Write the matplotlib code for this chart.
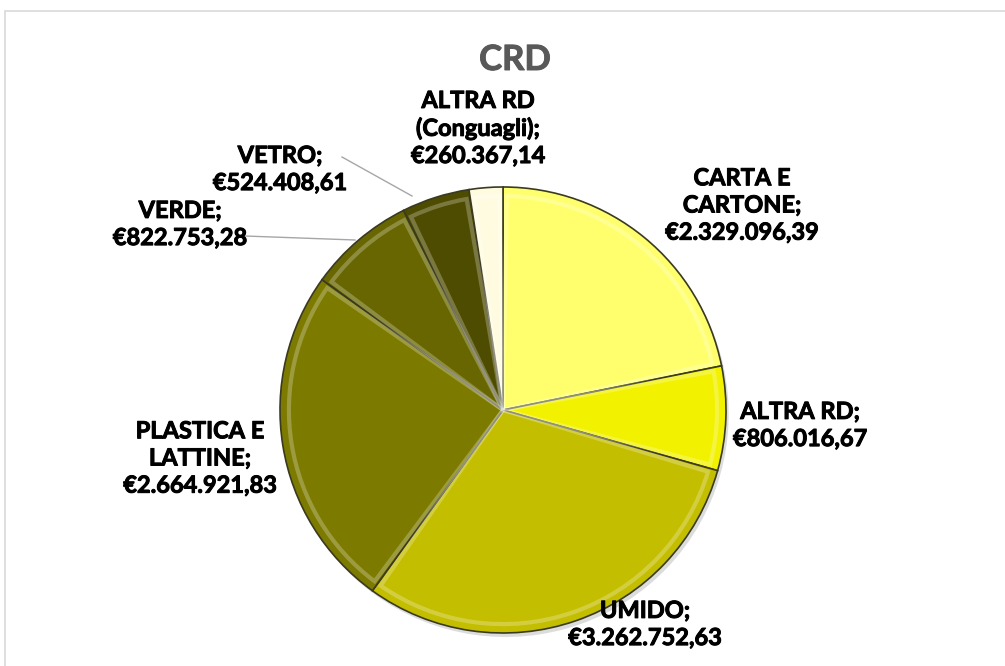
import matplotlib.pyplot as plt
import matplotlib.patheffects as pe
from matplotlib.patches import Rectangle, Wedge

# data
categories = ['CARTA E\nCARTONE', 'ALTRA RD', 'UMIDO', 'PLASTICA E\nLATTINE',
              'VERDE', 'VETRO', 'ALTRA RD\n(Conguagli)']
values = [2329096.39, 806016.67, 3262752.63, 2664921.83, 822753.28, 524408.61, 260367.14]
colors = ['#FFFF6E', '#F2F200', '#C4BE00', '#7D7A00', '#686600', '#4E4C00', '#FFFBE0']

# label positions in pixels (x, y from top), text centre
label_pos = [(742, 205), (800, 425), (645, 624), (200, 458),
             (180, 224), (280, 169), (478, 128)]


def fmt_euro(v):
    s = f"{v:,.2f}"
    s = s.replace(',', 'X').replace('.', ',').replace('X', '.')
    return '€' + s


W, H = 1005, 666
fig = plt.figure(figsize=(W / 100, H / 100), dpi=100)
plt.rcParams['font.family'] = ['Lato', 'DejaVu Sans']

# outer chart border
fig.patches.append(Rectangle((5 / W, -0.1), 1.1, 1 - 11 / H + 0.1, transform=fig.transFigure,
                             fill=False, edgecolor='#D9D9D9', linewidth=1.2))

cx, cy, r = 503, 410, 223
ax = fig.add_axes([(cx - r) / W, (H - cy - r) / H, 2 * r / W, 2 * r / H])

# soft shadow
ax.pie(values, radius=1.0, startangle=90, counterclock=False, center=(0.012, -0.018),
       colors=['#bbbbbb'] * len(values), wedgeprops=dict(linewidth=0, alpha=0.5))

wedges, _ = ax.pie(values, radius=1.0, startangle=90, counterclock=False,
                   colors=colors, wedgeprops=dict(edgecolor='#3a3a20', linewidth=1.2))

# bevel-ish highlight on each slice
for w, c in zip(wedges, colors):
    w2 = Wedge((0, 0), 0.96, w.theta1 + 1.0, w.theta2 - 1.0,
               facecolor='none', edgecolor='white', linewidth=3, alpha=0.25)
    ax.add_patch(w2)

ax.set_xlim(-1, 1)
ax.set_ylim(-1, 1)
ax.axis('off')

thick = [pe.withStroke(linewidth=0.7, foreground='black')]
for cat, v, (px, py) in zip(categories, values, label_pos):
    fig.text(px / W, 1 - py / H, f"{cat};\n{fmt_euro(v)}", ha='center', va='center',
             fontsize=17, fontweight='bold', color='black', linespacing=1.22,
             path_effects=thick)

# leader lines
fig.add_artist(plt.Line2D([342 / W, 412 / W], [1 - 157 / H, 1 - 196 / H], color='#A6A6A6', lw=1))
fig.add_artist(plt.Line2D([245 / W, 355 / W], [1 - 236 / H, 1 - 240 / H], color='#A6A6A6', lw=1))

fig.text(515 / W, 1 - 60 / H, 'CRD', ha='center', va='center', fontsize=25,
         fontweight='bold', color='#595959',
         path_effects=[pe.withStroke(linewidth=0.7, foreground='#595959')])

fig.savefig('out.png', dpi=100)
